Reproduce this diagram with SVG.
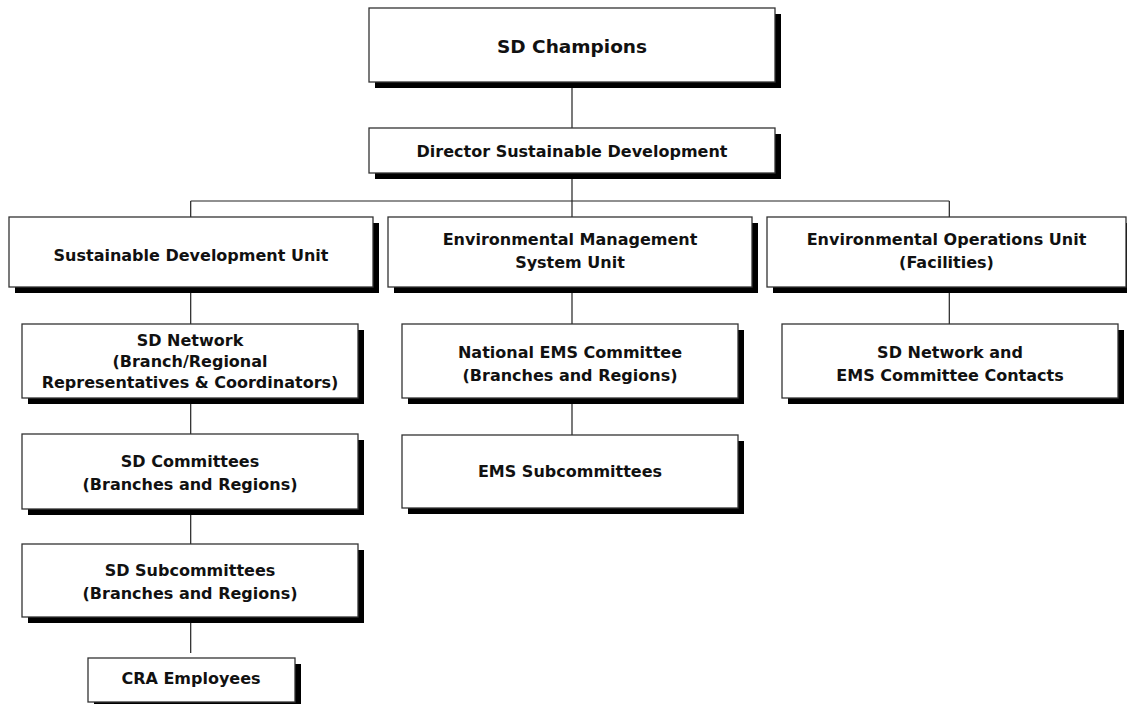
<svg xmlns="http://www.w3.org/2000/svg" width="1127" height="704" viewBox="0 0 1127 704">
<style>
.sh{fill:#000}
.bx{fill:#fff;stroke:#333;stroke-width:1.3}
.t{font-family:"DejaVu Sans","Liberation Sans",sans-serif;font-weight:bold;font-size:16px;fill:#111;text-anchor:middle}
.c{stroke:#222;stroke-width:1.2;fill:none}
</style>
<g id="connectors">
<path class="c" d="M572,88V128M572,178V201M190.7,201H949.3M190.7,201V217M572,201V217M949.3,201V217"/>
<path class="c" d="M190.7,293V324M190.7,404V434M190.7,515V544M190.7,623V653"/>
<path class="c" d="M572,293V324M572,404V435"/>
<path class="c" d="M949.3,293V324"/>
</g>
<g id="sd-champions">
<rect class="sh" x="375" y="14" width="406" height="74"/>
<rect class="bx" x="369" y="8" width="406" height="74"/>
<text class="t" x="572" y="53" style="font-size:18.5px">SD Champions</text>
</g>
<g id="director">
<rect class="sh" x="375" y="134" width="406" height="45"/>
<rect class="bx" x="369" y="128" width="406" height="45"/>
<text class="t" x="572" y="157">Director Sustainable Development</text>
</g>
<g id="sd-unit">
<rect class="sh" x="15" y="223" width="364" height="70"/>
<rect class="bx" x="9" y="217" width="364" height="70"/>
<text class="t" x="191" y="261">Sustainable Development Unit</text>
</g>
<g id="ems-unit">
<rect class="sh" x="394" y="223" width="364" height="70"/>
<rect class="bx" x="388" y="217" width="364" height="70"/>
<text class="t" x="570" y="245">Environmental Management</text>
<text class="t" x="570" y="268">System Unit</text>
</g>
<g id="ops-unit">
<rect class="sh" x="773" y="223" width="359" height="70"/>
<rect class="bx" x="767" y="217" width="359" height="70"/>
<text class="t" x="946.5" y="245">Environmental Operations Unit</text>
<text class="t" x="946.5" y="268">(Facilities)</text>
</g>
<g id="sd-network">
<rect class="sh" x="28" y="330" width="336" height="74"/>
<rect class="bx" x="22" y="324" width="336" height="74"/>
<text class="t" x="190" y="346">SD Network</text>
<text class="t" x="190" y="367">(Branch/Regional</text>
<text class="t" x="190" y="388">Representatives &amp; Coordinators)</text>
</g>
<g id="national-ems">
<rect class="sh" x="408" y="330" width="336" height="74"/>
<rect class="bx" x="402" y="324" width="336" height="74"/>
<text class="t" x="570" y="358">National EMS Committee</text>
<text class="t" x="570" y="381">(Branches and Regions)</text>
</g>
<g id="sd-network-ems">
<rect class="sh" x="788" y="330" width="336" height="74"/>
<rect class="bx" x="782" y="324" width="336" height="74"/>
<text class="t" x="950" y="358">SD Network and</text>
<text class="t" x="950" y="381">EMS Committee Contacts</text>
</g>
<g id="sd-committees">
<rect class="sh" x="28" y="440" width="336" height="75"/>
<rect class="bx" x="22" y="434" width="336" height="75"/>
<text class="t" x="190" y="467">SD Committees</text>
<text class="t" x="190" y="490">(Branches and Regions)</text>
</g>
<g id="ems-subcommittees">
<rect class="sh" x="408" y="441" width="336" height="73"/>
<rect class="bx" x="402" y="435" width="336" height="73"/>
<text class="t" x="570" y="477">EMS Subcommittees</text>
</g>
<g id="sd-subcommittees">
<rect class="sh" x="28" y="550" width="336" height="73"/>
<rect class="bx" x="22" y="544" width="336" height="73"/>
<text class="t" x="190" y="576">SD Subcommittees</text>
<text class="t" x="190" y="599">(Branches and Regions)</text>
</g>
<g id="cra-employees">
<rect class="sh" x="94" y="664" width="207" height="44"/>
<rect class="bx" x="88" y="658" width="207" height="44"/>
<text class="t" x="191" y="684">CRA Employees</text>
</g>
</svg>
